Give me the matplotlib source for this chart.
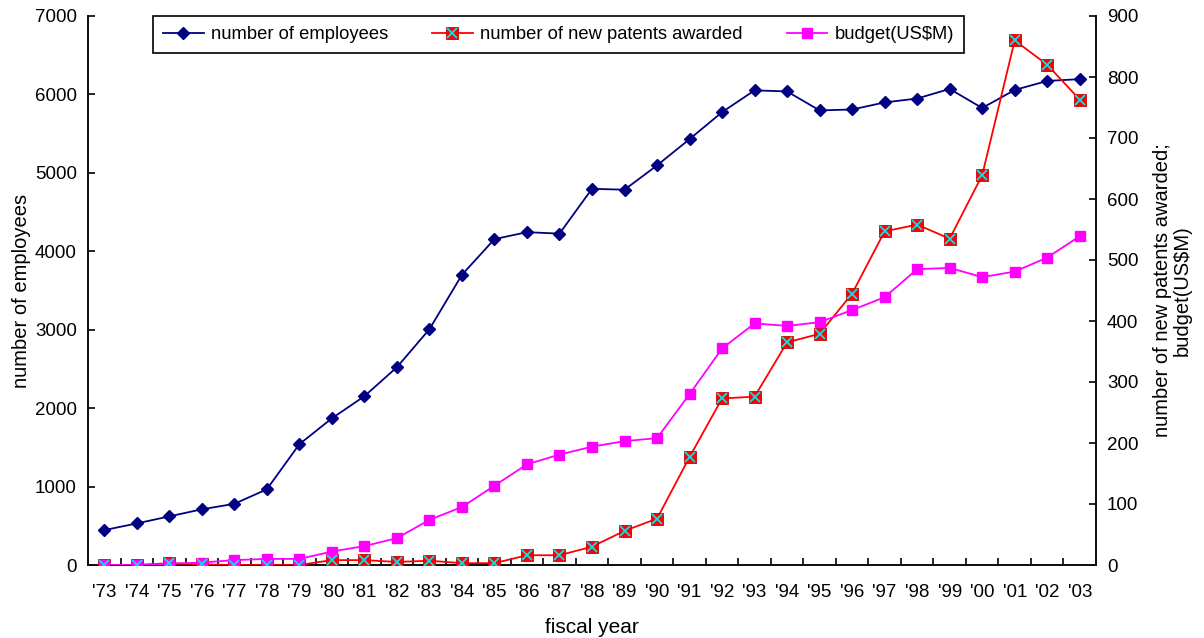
import matplotlib
matplotlib.use("Agg")
import matplotlib.pyplot as plt
from matplotlib.legend_handler import HandlerTuple
import numpy as np

plt.rcParams['font.family'] = ['Liberation Sans', 'DejaVu Sans']

years = ["'73", "'74", "'75", "'76", "'77", "'78", "'79", "'80", "'81", "'82",
         "'83", "'84", "'85", "'86", "'87", "'88", "'89", "'90", "'91", "'92",
         "'93", "'94", "'95", "'96", "'97", "'98", "'99", "'00", "'01", "'02", "'03"]

employees = [445, 530, 620, 710, 780, 965, 1540, 1870, 2152, 2522,
             3006, 3700, 4155, 4244, 4225, 4797, 4785, 5095, 5430, 5774,
             6052, 6038, 5796, 5808, 5898, 5948, 6070, 5827, 6057, 6172, 6195]

patents = [0, 0, 3, 1, 0, 0, 0, 8, 8, 5,
           7, 3, 3, 16, 16, 30, 56, 76, 177, 273,
           276, 365, 379, 445, 547, 558, 535, 639, 860, 820, 763]

budget = [0, 0, 2, 4, 8, 10, 10, 22, 31, 44,
          74, 95, 130, 165, 181, 194, 203, 208, 280, 355,
          396, 392, 398, 418, 439, 485, 487, 472, 481, 504, 539]

x = np.arange(len(years))

fig = plt.figure(figsize=(12.04, 6.38), dpi=100)
ax = fig.add_axes([88/1204, 1-565/638, 1008/1204, 549/638])
ax2 = ax.twinx()

l1, = ax.plot(x, employees, color='#000080', lw=1.3, marker='D', ms=6.5,
              mfc='#000080', mec='#000080', zorder=3)
l2, = ax2.plot(x, patents, color='#ff0000', lw=1.3, marker='s', ms=8,
               mfc='#ff0000', mec='#cc0000', mew=0.6, zorder=3)
l2x, = ax2.plot(x, patents, ls='none', marker='x', ms=7, mec='#00e5ee',
                mew=1.3, zorder=4)
l3, = ax2.plot(x, budget, color='#ff00ff', lw=1.3, marker='s', ms=7,
               mfc='#ff00ff', mec='#ff00ff', zorder=3)

ax.set_xlim(-0.5, len(years) - 0.5)
ax.set_ylim(0, 7000)
ax2.set_ylim(0, 900)
ax.set_yticks(np.arange(0, 7001, 1000))
ax2.set_yticks(np.arange(0, 901, 100))

ax.set_xticks(x)
ax.set_xticklabels(years)
ax.set_xticks(np.arange(-0.5, len(years), 1.0), minor=True)
ax.tick_params(axis='x', which='major', length=0, pad=14, labelsize=13.5)
ax.tick_params(axis='x', which='minor', direction='in', length=5, width=1.2)
ax.tick_params(axis='y', direction='in', length=5, width=1.2, labelsize=13.5, pad=8)
ax2.tick_params(axis='y', direction='in', length=5, width=1.2, labelsize=13.5, pad=8)

for a in (ax, ax2):
    a.spines['top'].set_visible(False)
    for s in ('left', 'right', 'bottom'):
        a.spines[s].set_linewidth(1.3)
        a.spines[s].set_color('#111111')

ax.set_xlabel('fiscal year', fontsize=15, labelpad=12)
ax.set_ylabel('number of employees', fontsize=14.5, labelpad=3)
ax2.set_ylabel('number of new patents awarded;\nbudget(US$M)', fontsize=14.5,
               labelpad=10, rotation=90, linespacing=1.05)

leg = ax.legend([l1, (l2, l2x), l3],
                ['number of employees', 'number of new patents awarded', 'budget(US$M)'],
                handler_map={tuple: HandlerTuple(ndivide=1)},
                loc='upper left', bbox_to_anchor=(0.0645, 1.0, 0.8046, 0.0),
                mode='expand', ncol=3, fontsize=13.25, frameon=True, fancybox=False,
                edgecolor='black', framealpha=1, handlelength=2.2,
                borderpad=0.55, handletextpad=0.4, borderaxespad=0.0)
leg.get_frame().set_linewidth(1.2)
leg.set_zorder(10)

fig.savefig('out.png', dpi=100)
